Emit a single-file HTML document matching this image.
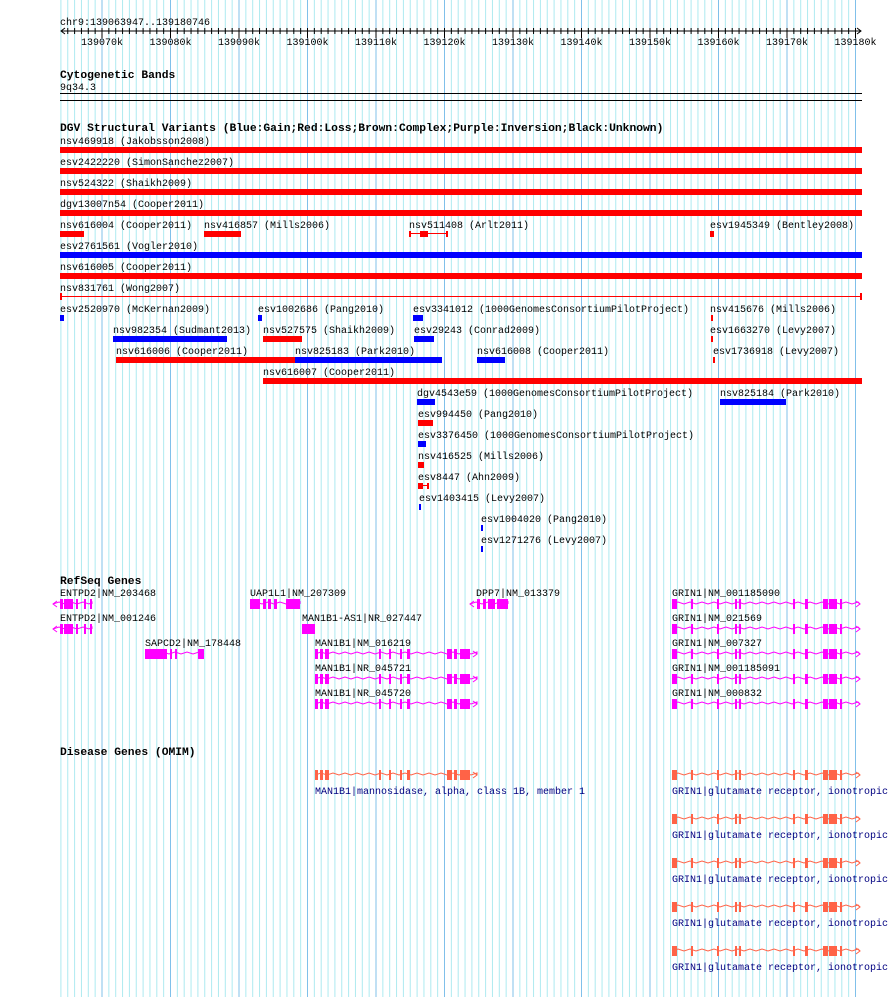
<!DOCTYPE html>
<html><head><meta charset="utf-8">
<style>
html,body{margin:0;padding:0;background:#fff;}
svg{display:block;}
text{font-family:"Liberation Mono","DejaVu Sans Mono",monospace;font-size:10px;fill:#000;}
.b{font-weight:bold;font-size:11.3px;}
.o{fill:#000080;}
</style></head>
<body>
<svg id="s" width="890" height="997" viewBox="0 0 890 997" xmlns="http://www.w3.org/2000/svg">
<g id="grid"></g>
<g id="main"></g>
</svg>
<script>
var NS="http://www.w3.org/2000/svg";
var grid=document.getElementById('grid'),M=document.getElementById('main');
function el(p,tag,a,txt){var e=document.createElementNS(NS,tag);for(var k in a)e.setAttribute(k,a[k]);if(txt!==undefined)e.textContent=txt;p.appendChild(e);return e;}
var S=6.85;
for(var k=-6;k<=111;k++){var x=102+k*S;if(x<59||x>857)continue;var maj=(k%10===0);
 el(grid,'line',{x1:x,y1:0,x2:x,y2:997,stroke:maj?'#80c0ea':'#aeeaf0','stroke-width':1});}
function T(x,y,s,c){el(M,'text',{x:x,y:y,'class':c||''},s);}
function R(x1,x2,y,h,c){el(M,'rect',{x:x1,y:y,width:Math.max(x2-x1,2),height:h,fill:c});}
// ruler
T(60,25,'chr9:139063947..139180746');
el(M,'line',{x1:61,y1:31,x2:861,y2:31,stroke:'#000'});
el(M,'polyline',{points:'65,28 61,31 65,34',fill:'none',stroke:'#000'});
el(M,'polyline',{points:'857,28 861,31 857,34',fill:'none',stroke:'#000'});
for(var k=-6;k<=111;k++){var x=102+k*S;if(x<62||x>860)continue;el(M,'line',{x1:x,y1:28,x2:x,y2:(k%10===0)?38:34,stroke:'#000'});}
for(var i=0;i<12;i++){var x=102+i*68.5;el(M,'text',{x:x,y:45,'text-anchor':'middle'},(139070+i*10)+'k');}
// cyto
T(60,78,'Cytogenetic Bands','b');T(60,90,'9q34.3');
R(60,862,93,1,'#000');R(60,862,100,1,'#000');
T(60,131,'DGV Structural Variants (Blue:Gain;Red:Loss;Brown:Complex;Purple:Inversion;Black:Unknown)','b');
var RED='#ff0000',BLUE='#0000ff';
var rows=[
[[60,'nsv469918 (Jakobsson2008)',60,862,RED]],
[[60,'esv2422220 (SimonSanchez2007)',60,862,RED]],
[[60,'nsv524322 (Shaikh2009)',60,862,RED]],
[[60,'dgv13007n54 (Cooper2011)',60,862,RED]],
[[60,'nsv616004 (Cooper2011)',60,84,RED],[204,'nsv416857 (Mills2006)',204,241,RED],[409,'nsv511408 (Arlt2011)',0,0,'X'],[710,'esv1945349 (Bentley2008)',710,714,RED]],
[[60,'esv2761561 (Vogler2010)',60,862,BLUE]],
[[60,'nsv616005 (Cooper2011)',60,862,RED]],
[[60,'nsv831761 (Wong2007)',0,0,'L']],
[[60,'esv2520970 (McKernan2009)',60,64,BLUE],[258,'esv1002686 (Pang2010)',258,262,BLUE],[413,'esv3341012 (1000GenomesConsortiumPilotProject)',413,423,BLUE],[710,'nsv415676 (Mills2006)',711,713,RED]],
[[113,'nsv982354 (Sudmant2013)',113,227,BLUE],[263,'nsv527575 (Shaikh2009)',263,302,RED],[414,'esv29243 (Conrad2009)',414,434,BLUE],[710,'esv1663270 (Levy2007)',711,713,RED]],
[[116,'nsv616006 (Cooper2011)',116,295,RED],[295,'nsv825183 (Park2010)',295,442,BLUE],[477,'nsv616008 (Cooper2011)',477,505,BLUE],[713,'esv1736918 (Levy2007)',713,715,RED]],
[[263,'nsv616007 (Cooper2011)',263,862,RED]],
[[417,'dgv4543e59 (1000GenomesConsortiumPilotProject)',417,435,BLUE],[720,'nsv825184 (Park2010)',720,786,BLUE]],
[[418,'esv994450 (Pang2010)',418,433,RED]],
[[418,'esv3376450 (1000GenomesConsortiumPilotProject)',418,426,BLUE]],
[[418,'nsv416525 (Mills2006)',418,424,RED]],
[[418,'esv8447 (Ahn2009)',0,0,'E']],
[[419,'esv1403415 (Levy2007)',419,421,BLUE]],
[[481,'esv1004020 (Pang2010)',481,483,BLUE]],
[[481,'esv1271276 (Levy2007)',481,483,BLUE]]
];
rows.forEach(function(r,i){var by=147+21*i;r.forEach(function(f){T(f[0],144+21*i,f[1]);
 if(f[4]==='X'){R(409,448,by+2,1,RED);R(409,411,by,6,RED);R(446,448,by,6,RED);R(420,428,by,6,RED);}
 else if(f[4]==='L'){R(60,862,by+2,1,RED);R(60,62,by-1,7,RED);R(860,862,by-1,7,RED);}
 else if(f[4]==='E'){R(418,428,by+2,1,RED);R(418,423,by,6,RED);R(427,429,by,6,RED);}
 else R(f[2],f[3],by,6,f[4]);});});
// genes
function gene(cy,x1,x2,ex,col,dir,h){h=h||10;
 var pts=[];var step=12;for(var x=x1;x<=x2;x+=step){pts.push(x+','+cy);pts.push(Math.min(x+step/2,x2)+','+(cy-2));}
 pts.push(x2+','+cy);
 el(M,'polyline',{points:pts.join(' '),fill:'none',stroke:col,'stroke-width':1});
 ex.forEach(function(e){R(e[0],e[1],cy-h/2,h,col);});
 if(dir<0)el(M,'polyline',{points:(x1+4)+','+(cy-3)+' '+x1+','+cy+' '+(x1+4)+','+(cy+3),fill:'none',stroke:col});
 if(dir>0)el(M,'polyline',{points:(x2-4)+','+(cy-3)+' '+x2+','+cy+' '+(x2-4)+','+(cy+3),fill:'none',stroke:col});}
var MG='#ff00ff';
T(60,584,'RefSeq Genes','b');
var ent=[[60,63],[64,73],[76,78],[84,86],[90,92]];
T(60,596,'ENTPD2|NM_203468');gene(604,53,92,ent,MG,-1);
T(60,621,'ENTPD2|NM_001246');gene(629,53,92,ent,MG,-1);
T(250,596,'UAP1L1|NM_207309');gene(604,250,300,[[250,260],[263,266],[268,271],[274,277],[286,300]],MG,0);
T(476,596,'DPP7|NM_013379');gene(604,470,508,[[477,480],[483,486],[488,495],[497,508]],MG,-1);
T(302,621,'MAN1B1-AS1|NR_027447');R(302,315,624,10,MG);
T(145,646,'SAPCD2|NM_178448');gene(654,145,204,[[145,167],[170,172],[175,177],[198,204]],MG,0);
var man=[[315,318],[320,323],[325,329],[379,381],[389,391],[400,402],[407,410],[447,452],[454,457],[460,470]];
var mnames=['MAN1B1|NM_016219','MAN1B1|NR_045721','MAN1B1|NR_045720'];
mnames.forEach(function(n,i){T(315,646+25*i,n);gene(654+25*i,315,477,man,MG,1);});
var gr=[[672,677],[691,693],[717,719],[735,737],[739,741],[793,795],[805,808],[823,828],[829,837],[840,842]];
var gnames=['GRIN1|NM_001185090','GRIN1|NM_021569','GRIN1|NM_007327','GRIN1|NM_001185091','GRIN1|NM_000832'];
gnames.forEach(function(n,i){T(672,596+25*i,n);gene(604+25*i,672,860,gr,MG,1);});
// OMIM
var OR='#ff6347';
T(60,755,'Disease Genes (OMIM)','b');
gene(775,315,477,man,OR,1);T(315,794,'MAN1B1|mannosidase, alpha, class 1B, member 1','o');
for(var i=0;i<5;i++){gene(775+44*i,672,860,gr,OR,1);T(672,794+44*i,'GRIN1|glutamate receptor, ionotropic','o');}
</script>
</body></html>
